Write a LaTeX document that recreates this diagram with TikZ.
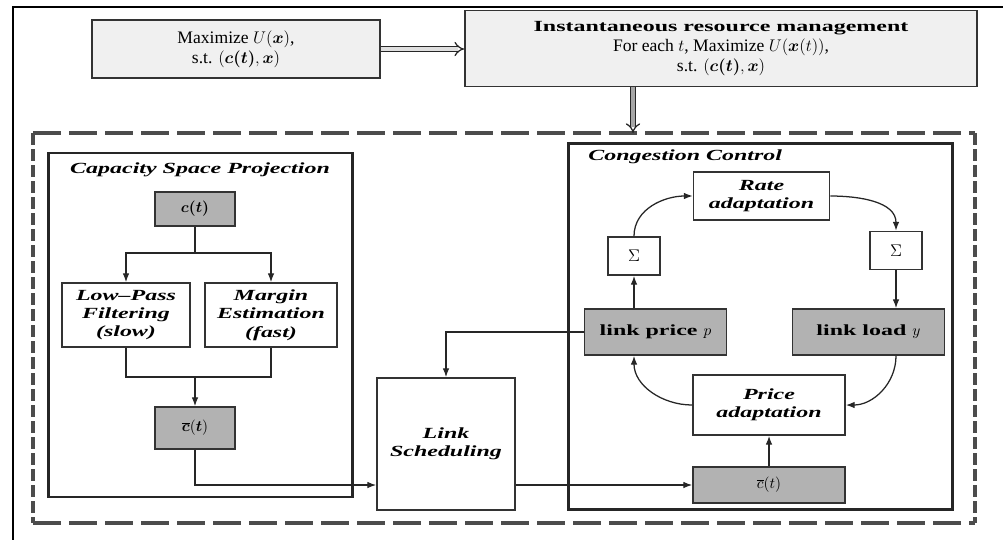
\documentclass[tikz,border=0pt]{standalone}
\usepackage{amsmath}
\usepackage{bm}
\usepackage{fontspec}
\setmainfont{Liberation Serif}[
  BoldFeatures={FakeStretch=1.55},
  ItalicFeatures={FakeStretch=1.55},
  BoldItalicFeatures={FakeStretch=1.55}]
\usetikzlibrary{positioning,calc,arrows.meta}

\begin{document}
\begin{tikzpicture}[
  x=0.025cm, y=-0.025cm,
  >={Latex[length=2.2mm]},
  every node/.style={font=\fontsize{11}{13}\selectfont, align=center},
  box/.style={draw=black!80, line width=1.2pt, inner sep=2pt},
  topbox/.style={box, fill=gray!12, font=\fontsize{12.5}{14}\selectfont},
  signal/.style={box, fill=gray!60},
  stagebox/.style={box, fill=white, font=\fontsize{11}{13}\selectfont\bfseries\itshape},
  sumbox/.style={box, fill=white, minimum width=1.3cm, minimum height=0.95cm},
  frame/.style={draw=black!85, line width=1.8pt},
  title/.style={font=\fontsize{11}{13}\selectfont\bfseries\itshape, inner sep=0pt},
  link/.style={->, line width=0.9pt, draw=black!85},
  bigarrow/.style={double=gray!25, double distance=2.6pt, line width=0.9pt, draw=black!85, -{Implies}}
]
\useasboundingbox (0,0) rectangle (1003,540);

% page frame
\draw[line width=1.5pt] (1003,7) -- (13,7) -- (13,540);

% problem statement
\node[topbox, minimum width=7.2cm, minimum height=1.45cm] (maxbox) at (236,49)
  {Maximize $U(\boldsymbol{x})$,\\s.t. $(\boldsymbol{c(t)},\boldsymbol{x})$};
\node[topbox, minimum width=12.8cm, minimum height=1.9cm] (irm) at (721,48.5)
  {\fontsize{11}{14}\selectfont\textbf{Instantaneous resource management}\\For each $t$, Maximize $U(\boldsymbol{x}(t))$,\\s.t. $(\boldsymbol{c(t)},\boldsymbol{x})$};

% dashed region
\draw[gray!60!black, line width=2.4pt, dash pattern=on 0.7cm off 0.2cm] (33,133) -- (975,133) (33,523) -- (975,523);
\draw[gray!60!black, line width=2.4pt, dash pattern=on 0.3cm off 0.1cm] (33,133) -- (33,523) (975,133) -- (975,523);
\coordinate (dtop) at (633,133);

% capacity space projection
\node[frame, minimum width=7.6cm, minimum height=8.6cm] (csp) at (200.5,325) {};
\node[title] (csptitle) at (200,170) {Capacity Space Projection};
\node[signal, minimum width=2cm, minimum height=0.85cm] (ct) at (195,209) {$\boldsymbol{c(t)}$};
\node[stagebox, minimum width=3.2cm, minimum height=1.6cm] (lpf) at (126,315) {Low--Pass\\Filtering\\(slow)};
\node[stagebox, minimum width=3.3cm, minimum height=1.6cm] (me) at (271,315) {Margin\\Estimation\\(fast)};
\node[signal, minimum width=2cm, minimum height=1.05cm] (xbar) at (195,428) {$\overline{\boldsymbol{c}}(\boldsymbol{t})$};
\coordinate (split) at (195,253);
\coordinate (merge) at (195,377);

% link scheduling
\node[stagebox, minimum width=3.45cm, minimum height=3.3cm] (ls) at (446,444) {Link\\Scheduling};

% congestion control
\node[frame, minimum width=9.6cm, minimum height=9.15cm] (cc) at (760.5,326.5) {};
\node[title, anchor=west] (cctitle) at (588,157) {Congestion Control};
\node[stagebox, minimum width=3.4cm, minimum height=1.2cm] (rate) at (761.5,196) {Rate\\adaptation};
\node[sumbox] (sigL) at (634,256) {\large$\Sigma$};
\node[sumbox] (sigR) at (896,250.5) {\large$\Sigma$};
\node[signal, font=\fontsize{11}{13}\selectfont\bfseries, minimum width=3.55cm, minimum height=1.15cm] (price) at (655.5,332) {link price $p$};
\node[signal, font=\fontsize{11}{13}\selectfont\bfseries, minimum width=3.8cm, minimum height=1.15cm] (load) at (868.5,332) {link load $y$};
\node[stagebox, minimum width=3.8cm, minimum height=1.5cm] (padapt) at (769,405) {Price\\adaptation};
\node[signal, minimum width=3.8cm, minimum height=0.9cm] (cbar) at (769,485) {$\overline{c}(t)$};

% arrows
\draw[bigarrow] (maxbox.east) -- (maxbox.east -| irm.west);
\draw[bigarrow, double=gray!70] (irm.south -| dtop) -- (dtop);

\draw[line width=0.9pt, draw=black!85] (ct) -- (split);
\draw[link] (split) -| (lpf.north);
\draw[link] (split) -| (me.north);
\draw[line width=0.9pt, draw=black!85] (lpf.south) |- (merge) -| (me.south);
\draw[link] (merge) -- (xbar);
\draw[link] (xbar.south) |- (ls.west |- cbar.west);
\draw[link] (ls.east |- cbar.west) -- (cbar.west);
\draw[link] (price.west) -| (ls.north);

\draw[link] (sigL.north) to[out=90, in=180] (rate.west);
\draw[link] (rate.east) to[out=0, in=90] (sigR.north);
\draw[link] (sigR.south) -- (sigR |- load.north);
\draw[link] (sigR |- load.south) to[out=270, in=0] (padapt.east);
\draw[link] (padapt.west) to[out=180, in=270] (sigL |- price.south);
\draw[link] (cbar) -- (padapt);
\draw[link] (sigL |- price.north) -- (sigL.south);

\end{tikzpicture}
\end{document}
